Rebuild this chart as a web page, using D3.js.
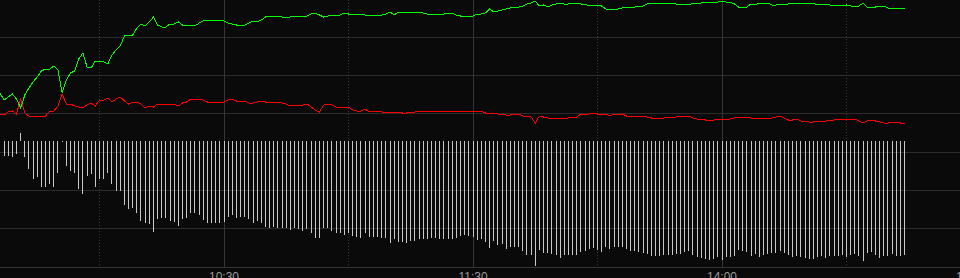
<!DOCTYPE html>
<html>
<head>
<meta charset="utf-8">
<script src="https://cdn.jsdelivr.net/npm/d3@7"></script>
<style>
  html, body { margin:0; padding:0; background:#0a0a0a; overflow:hidden; }
  svg { display:block; }
</style>
</head>
<body>
<div class="chart"></div>
<script>
//data: one sample per trading minute, first sample at 09:36
const startMinute = 6;

const greenPrice = [
  10.20, 10.13, 10.16, 10.19, 10.14, 10.05, 10.18, 10.25, 10.31, 10.36,
  10.42, 10.44, 10.44, 10.47, 10.43, 10.20, 10.33, 10.40, 10.42, 10.54,
  10.60, 10.46, 10.45, 10.52, 10.52, 10.51, 10.49, 10.58, 10.63, 10.67,
  10.77, 10.78, 10.78, 10.85, 10.89, 10.87, 10.91, 10.96, 10.88, 10.86,
  10.86, 10.89, 10.89, 10.91, 10.88, 10.88, 10.88, 10.87, 10.90, 10.92,
  10.93, 10.93, 10.93, 10.93, 10.92, 10.90, 10.89, 10.88, 10.88, 10.88,
  10.90, 10.92, 10.91, 10.93, 10.96, 10.97, 10.97, 10.97, 10.96, 10.96,
  10.96, 10.97, 10.97, 10.97, 10.97, 10.99, 11.00, 10.98, 10.96, 10.97,
  10.98, 10.98, 10.98, 11.00, 10.99, 10.99, 10.99, 10.99, 10.98, 10.98,
  10.98, 10.98, 10.98, 10.99, 11.01, 10.98, 11.01, 11.00, 11.01, 11.01,
  11.01, 11.01, 11.00, 10.99, 10.99, 10.99, 10.99, 10.99, 11.00, 11.00,
  10.98, 10.97, 10.96, 10.97, 10.97, 10.99, 10.99, 11.00, 11.04, 11.01,
  11.02, 11.03, 11.04, 11.05, 11.06, 11.06, 11.07, 11.09, 11.10, 11.12,
  11.07, 11.08, 11.06, 11.08, 11.09, 11.10, 11.09, 11.09, 11.10, 11.10,
  11.09, 11.09, 11.07, 11.08, 11.08, 11.07, 11.04, 11.04, 11.04, 11.04,
  11.05, 11.06, 11.06, 11.06, 11.07, 11.07, 11.09, 11.10, 11.10, 11.10,
  11.10, 11.10, 11.10, 11.09, 11.09, 11.09, 11.08, 11.10, 11.10, 11.10,
  11.11, 11.11, 11.11, 11.11, 11.12, 11.11, 11.11, 11.09, 11.06, 11.06,
  11.06, 11.09, 11.08, 11.10, 11.10, 11.10, 11.08, 11.08, 11.09, 11.09,
  11.09, 11.10, 11.10, 11.10, 11.10, 11.10, 11.10, 11.08, 11.09, 11.09,
  11.08, 11.08, 11.08, 11.07, 11.08, 11.07, 11.07, 11.07, 11.10, 11.06,
  11.05, 11.06, 11.07, 11.07, 11.05, 11.05, 11.05, 11.05, 11.04
];

const redPrice = [
  9.99, 9.98, 10.01, 10.02, 9.99, 10.14, 10.00, 9.97, 9.96, 9.97,
  9.96, 9.97, 10.02, 10.02, 10.07, 10.19, 10.09, 10.09, 10.07, 10.06,
  10.05, 10.08, 10.10, 10.07, 10.13, 10.13, 10.15, 10.11, 10.14, 10.16,
  10.12, 10.09, 10.11, 10.11, 10.09, 10.05, 10.07, 10.06, 10.09, 10.09,
  10.09, 10.09, 10.09, 10.07, 10.10, 10.11, 10.14, 10.14, 10.14, 10.13,
  10.11, 10.11, 10.11, 10.11, 10.11, 10.13, 10.14, 10.12, 10.12, 10.12,
  10.10, 10.10, 10.11, 10.12, 10.11, 10.11, 10.11, 10.11, 10.10, 10.09,
  10.07, 10.08, 10.08, 10.08, 10.09, 10.06, 10.03, 10.01, 10.08, 10.09,
  10.08, 10.06, 10.06, 10.06, 10.06, 10.03, 10.02, 10.02, 10.04, 10.01,
  10.02, 10.02, 10.01, 10.01, 10.01, 10.01, 10.01, 10.00, 10.00, 10.01,
  10.01, 10.02, 10.02, 10.02, 10.02, 10.02, 10.02, 10.02, 10.02, 10.02,
  10.02, 10.02, 10.02, 10.02, 10.02, 10.02, 10.02, 10.00, 9.99, 10.00,
  9.99, 9.99, 9.98, 9.98, 9.99, 9.99, 9.97, 9.97, 9.96, 9.90,
  9.97, 9.96, 9.95, 9.95, 9.95, 9.94, 9.95, 9.95, 9.96, 9.96,
  9.99, 9.99, 9.99, 10.00, 9.99, 9.98, 9.99, 9.97, 9.99, 9.98,
  9.99, 9.97, 9.97, 9.97, 9.97, 9.97, 9.96, 9.95, 9.95, 9.95,
  9.95, 9.96, 9.96, 9.96, 9.97, 9.97, 9.97, 9.95, 9.94, 9.94,
  9.93, 9.92, 9.93, 9.94, 9.94, 9.94, 9.94, 9.95, 9.96, 9.96,
  9.96, 9.95, 9.94, 9.95, 9.95, 9.95, 9.95, 9.96, 9.97, 9.95,
  9.93, 9.93, 9.94, 9.92, 9.92, 9.91, 9.91, 9.92, 9.92, 9.92,
  9.93, 9.93, 9.94, 9.93, 9.94, 9.94, 9.94, 9.92, 9.90, 9.92,
  9.93, 9.92, 9.91, 9.90, 9.90, 9.91, 9.91, 9.90, 9.90
];

const flow = [
  null, -147, -147, -157, -130, 77, -157, -283, -383, -363,
  -457, -457, -430, -457, -323, -10, -247, -297, -323, -483,
  -533, -347, -333, -463, -383, -383, -317, -433, -497, -497,
  -637, -683, -667, -723, -797, -817, -833, -907, -783, -773,
  -773, -797, -807, -847, -783, -767, -723, -717, -740, -790,
  -823, -823, -823, -823, -807, -763, -740, -773, -757, -757,
  -783, -817, -797, -817, -857, -870, -857, -870, -867, -867,
  -890, -873, -880, -897, -883, -923, -973, -967, -873, -873,
  -897, -923, -923, -940, -923, -950, -963, -973, -923, -957,
  -957, -957, -967, -973, -1017, -980, -1007, -1007, -1017, -997,
  -997, -983, -977, -977, -967, -970, -977, -977, -977, -983,
  -973, -950, -940, -950, -957, -990, -977, -1007, -1067, -997,
  -1040, -1027, -1077, -1057, -1063, -1063, -1097, -1137, -1137, -1247,
  -1090, -1117, -1117, -1130, -1143, -1167, -1137, -1137, -1137, -1137,
  -1107, -1097, -1080, -1070, -1090, -1107, -1057, -1077, -1057, -1057,
  -1063, -1080, -1097, -1097, -1113, -1123, -1130, -1147, -1150, -1150,
  -1140, -1140, -1137, -1130, -1130, -1113, -1097, -1140, -1160, -1167,
  -1183, -1190, -1183, -1157, -1190, -1163, -1163, -1150, -1090, -1097,
  -1107, -1150, -1130, -1157, -1137, -1130, -1117, -1117, -1097, -1117,
  -1140, -1157, -1150, -1157, -1167, -1177, -1177, -1157, -1150, -1167,
  -1150, -1147, -1147, -1140, -1157, -1140, -1130, -1147, -1197, -1117,
  -1107, -1137, -1167, -1147, -1147, -1130, -1147, -1147, -1140
];

const tickMinutes = [60, 120, 180, 240];
const tickLabels = ['10:30', '11:30', '14:00', '15:00'];
const halfHourMinutes = [30, 90, 150, 210];

const data = greenPrice.map((g, i) => ({
  m: startMinute + i, green: g, red: redPrice[i], flow: flow[i]
}));

//size
const width = 960, height = 278;

const svg = d3.select('.chart').append('svg')
  .attr('width', width)
  .attr('height', height)
  .style('background', '#0a0a0a');

//scales
const xScale = d3.scaleLinear().domain([0, 240]).range([-25, 971]);
const yPrice = d3.scaleLinear().domain([10, 11.13]).range([113, 0]);
const yFlow = d3.scaleLinear().domain([0, -1260]).range([141, 267]);
const gridY = d3.scaleLinear().domain([0, 7]).range([-1, 267]);

const px = v => Math.floor(v) + 0.5;

//horizontal grid
svg.append('g').selectAll('line')
  .data(d3.range(1, 7))
  .enter().append('line')
  .attr('x1', 0).attr('x2', width)
  .attr('y1', d => px(gridY(d))).attr('y2', d => px(gridY(d)))
  .attr('stroke', '#2c2c2c');

//dotted half-hour lines
svg.append('g').selectAll('line')
  .data(halfHourMinutes)
  .enter().append('line')
  .attr('x1', d => px(xScale(d))).attr('x2', d => px(xScale(d)))
  .attr('y1', 0).attr('y2', 267)
  .attr('stroke', '#3a3a3a')
  .attr('stroke-dasharray', '1,2');

//solid hour lines
svg.append('g').selectAll('line')
  .data(tickMinutes)
  .enter().append('line')
  .attr('x1', d => px(xScale(d))).attr('x2', d => px(xScale(d)))
  .attr('y1', 0).attr('y2', 267)
  .attr('stroke', '#363636');

//bars
svg.append('g').selectAll('rect')
  .data(data.filter(d => d.flow !== null))
  .enter().append('rect')
  .attr('x', d => Math.floor(xScale(d.m)))
  .attr('width', 1)
  .attr('y', d => Math.min(yFlow(0), yFlow(d.flow)))
  .attr('height', d => Math.max(1, Math.abs(yFlow(d.flow) - yFlow(0))))
  .attr('fill', '#c8c8c8')
  .attr('shape-rendering', 'crispEdges');

//axis line
svg.append('line')
  .attr('x1', 0).attr('x2', width)
  .attr('y1', px(gridY(7))).attr('y2', px(gridY(7)))
  .attr('stroke', '#333');

//price lines
const line = key => d3.line()
  .x(d => xScale(d.m))
  .y(d => yPrice(d[key]));

svg.append('path')
  .datum(data)
  .attr('d', line('red'))
  .attr('fill', 'none')
  .attr('stroke', '#ff0000')
  .attr('stroke-width', 1)
  .attr('shape-rendering', 'crispEdges');

svg.append('path')
  .datum(data)
  .attr('d', line('green'))
  .attr('fill', 'none')
  .attr('stroke', '#00ff00')
  .attr('stroke-width', 1)
  .attr('shape-rendering', 'crispEdges');

//time labels
svg.append('g').selectAll('text')
  .data(tickMinutes)
  .enter().append('text')
  .attr('x', d => xScale(d))
  .attr('y', 281)
  .attr('text-anchor', 'middle')
  .attr('font-family', '"Liberation Sans", Arial, sans-serif')
  .attr('font-size', 12)
  .attr('fill', '#9a9a9a')
  .text((d, i) => tickLabels[i]);
</script>
</body>
</html>
